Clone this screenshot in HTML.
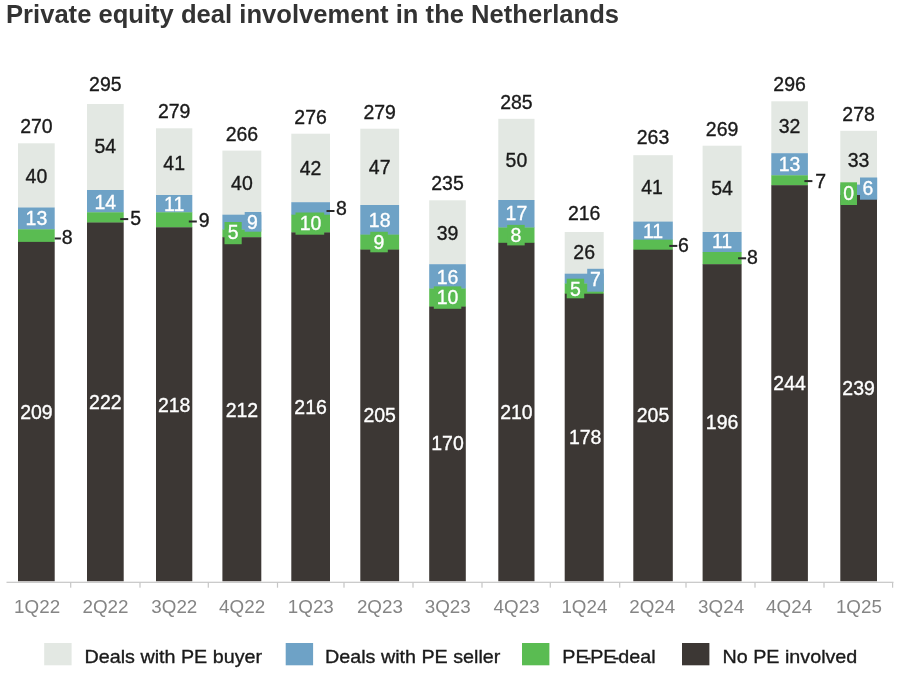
<!DOCTYPE html>
<html><head><meta charset="utf-8"><title>Private equity deal involvement in the Netherlands</title>
<style>html,body{margin:0;padding:0;background:#fff;}body{width:900px;height:675px;overflow:hidden}svg{display:block;font-family:"Liberation Sans",Arial,sans-serif}</style>
</head><body>
<svg width="900" height="675" viewBox="0 0 900 675">
<rect x="18.0" y="143.3" width="36.7" height="64.5" fill="#e3e8e3"/>
<rect x="18.0" y="207.5" width="36.7" height="22.1" fill="#6ea2c6"/>
<rect x="18.0" y="229.3" width="36.7" height="12.9" fill="#5abc52"/>
<rect x="18.0" y="241.9" width="36.7" height="339.4" fill="#3c3734"/>
<text transform="translate(36.4,133.3) scale(0.97,1)" font-size="20.1" fill="#1a1a1a" stroke="#1a1a1a" stroke-width="0.35" text-anchor="middle">270</text>
<text transform="translate(36.4,182.9) scale(0.97,1)" font-size="20.1" fill="#1a1a1a" stroke="#1a1a1a" stroke-width="0.35" text-anchor="middle">40</text>
<text transform="translate(36.4,419.1) scale(0.97,1)" font-size="20.1" fill="#fff" stroke="#fff" stroke-width="0.35" text-anchor="middle">209</text>
<text transform="translate(36.4,224.7) scale(0.97,1)" font-size="20.1" fill="#fff" stroke="#fff" stroke-width="0.35" text-anchor="middle">13</text>
<rect x="54.7" y="237.5" width="6.2" height="2" fill="#2a2a2a"/>
<text transform="translate(61.8,244.3) scale(0.97,1)" font-size="20.1" fill="#1a1a1a" stroke="#1a1a1a" stroke-width="0.35" text-anchor="start">8</text>
<text transform="translate(37.1,613.3) scale(0.99,1)" font-size="19" fill="#858585" text-anchor="middle">1Q22</text>
<rect x="87.0" y="104.0" width="36.7" height="86.3" fill="#e3e8e3"/>
<rect x="87.0" y="190.0" width="36.7" height="22.6" fill="#6ea2c6"/>
<rect x="87.0" y="212.3" width="36.7" height="10.5" fill="#5abc52"/>
<rect x="87.0" y="222.5" width="36.7" height="358.8" fill="#3c3734"/>
<text transform="translate(105.3,91.2) scale(0.97,1)" font-size="20.1" fill="#1a1a1a" stroke="#1a1a1a" stroke-width="0.35" text-anchor="middle">295</text>
<text transform="translate(105.3,153.0) scale(0.97,1)" font-size="20.1" fill="#1a1a1a" stroke="#1a1a1a" stroke-width="0.35" text-anchor="middle">54</text>
<text transform="translate(105.3,409.4) scale(0.97,1)" font-size="20.1" fill="#fff" stroke="#fff" stroke-width="0.35" text-anchor="middle">222</text>
<text transform="translate(105.3,209.1) scale(0.97,1)" font-size="20.1" fill="#fff" stroke="#fff" stroke-width="0.35" text-anchor="middle">14</text>
<rect x="120.2" y="218.1" width="8.0" height="2" fill="#2a2a2a"/>
<text transform="translate(130.2,224.9) scale(0.97,1)" font-size="20.1" fill="#1a1a1a" stroke="#1a1a1a" stroke-width="0.35" text-anchor="start">5</text>
<text transform="translate(105.5,613.3) scale(0.99,1)" font-size="19" fill="#858585" text-anchor="middle">2Q22</text>
<rect x="156.0" y="128.3" width="36.3" height="67.0" fill="#e3e8e3"/>
<rect x="156.0" y="195.0" width="36.3" height="17.6" fill="#6ea2c6"/>
<rect x="156.0" y="212.3" width="36.3" height="15.3" fill="#5abc52"/>
<rect x="156.0" y="227.3" width="36.3" height="354.0" fill="#3c3734"/>
<text transform="translate(174.2,118.3) scale(0.97,1)" font-size="20.1" fill="#1a1a1a" stroke="#1a1a1a" stroke-width="0.35" text-anchor="middle">279</text>
<text transform="translate(174.2,170.2) scale(0.97,1)" font-size="20.1" fill="#1a1a1a" stroke="#1a1a1a" stroke-width="0.35" text-anchor="middle">41</text>
<text transform="translate(174.2,411.8) scale(0.97,1)" font-size="20.1" fill="#fff" stroke="#fff" stroke-width="0.35" text-anchor="middle">218</text>
<text transform="translate(174.2,211.2) scale(0.97,1)" font-size="20.1" fill="#fff" stroke="#fff" stroke-width="0.35" text-anchor="middle">11</text>
<rect x="188.8" y="220.5" width="8.0" height="2" fill="#2a2a2a"/>
<text transform="translate(198.8,227.3) scale(0.97,1)" font-size="20.1" fill="#1a1a1a" stroke="#1a1a1a" stroke-width="0.35" text-anchor="start">9</text>
<text transform="translate(174.3,613.3) scale(0.99,1)" font-size="19" fill="#858585" text-anchor="middle">3Q22</text>
<rect x="222.4" y="150.6" width="38.9" height="64.4" fill="#e3e8e3"/>
<rect x="222.4" y="214.7" width="38.9" height="15.1" fill="#6ea2c6"/>
<rect x="222.4" y="229.5" width="38.9" height="8.0" fill="#5abc52"/>
<rect x="222.4" y="237.2" width="38.9" height="344.1" fill="#3c3734"/>
<text transform="translate(241.9,141.0) scale(0.97,1)" font-size="20.1" fill="#1a1a1a" stroke="#1a1a1a" stroke-width="0.35" text-anchor="middle">266</text>
<text transform="translate(241.9,190.1) scale(0.97,1)" font-size="20.1" fill="#1a1a1a" stroke="#1a1a1a" stroke-width="0.35" text-anchor="middle">40</text>
<text transform="translate(241.9,416.8) scale(0.97,1)" font-size="20.1" fill="#fff" stroke="#fff" stroke-width="0.35" text-anchor="middle">212</text>
<rect x="244.7" y="212.0" width="16.6" height="19.7" fill="#6ea2c6"/>
<text transform="translate(252.3,229.3) scale(0.97,1)" font-size="20.1" fill="#fff" stroke="#fff" stroke-width="0.35" text-anchor="middle">9</text>
<rect x="224.5" y="222.0" width="17.2" height="22.2" fill="#5abc52"/>
<text transform="translate(233.1,239.4) scale(0.97,1)" font-size="20.1" fill="#fff" stroke="#fff" stroke-width="0.35" text-anchor="middle">5</text>
<text transform="translate(242.1,613.3) scale(0.99,1)" font-size="19" fill="#858585" text-anchor="middle">4Q22</text>
<rect x="291.3" y="133.7" width="38.7" height="68.8" fill="#e3e8e3"/>
<rect x="291.3" y="202.2" width="38.7" height="12.8" fill="#6ea2c6"/>
<rect x="291.3" y="214.7" width="38.7" height="18.0" fill="#5abc52"/>
<rect x="291.3" y="232.4" width="38.7" height="348.9" fill="#3c3734"/>
<text transform="translate(310.6,123.7) scale(0.97,1)" font-size="20.1" fill="#1a1a1a" stroke="#1a1a1a" stroke-width="0.35" text-anchor="middle">276</text>
<text transform="translate(310.6,175.4) scale(0.97,1)" font-size="20.1" fill="#1a1a1a" stroke="#1a1a1a" stroke-width="0.35" text-anchor="middle">42</text>
<text transform="translate(310.6,414.3) scale(0.97,1)" font-size="20.1" fill="#fff" stroke="#fff" stroke-width="0.35" text-anchor="middle">216</text>
<rect x="295.5" y="212.5" width="28.7" height="22.2" fill="#5abc52"/>
<text transform="translate(310.6,229.6) scale(0.97,1)" font-size="20.1" fill="#fff" stroke="#fff" stroke-width="0.35" text-anchor="middle">10</text>
<rect x="326.5" y="210.0" width="8.0" height="2" fill="#2a2a2a"/>
<text transform="translate(336.0,215.3) scale(0.97,1)" font-size="20.1" fill="#1a1a1a" stroke="#1a1a1a" stroke-width="0.35" text-anchor="start">8</text>
<text transform="translate(310.8,613.3) scale(0.99,1)" font-size="19" fill="#858585" text-anchor="middle">1Q23</text>
<rect x="360.3" y="128.7" width="38.8" height="76.6" fill="#e3e8e3"/>
<rect x="360.3" y="205.0" width="38.8" height="29.9" fill="#6ea2c6"/>
<rect x="360.3" y="234.6" width="38.8" height="15.3" fill="#5abc52"/>
<rect x="360.3" y="249.6" width="38.8" height="331.7" fill="#3c3734"/>
<text transform="translate(379.7,118.7) scale(0.97,1)" font-size="20.1" fill="#1a1a1a" stroke="#1a1a1a" stroke-width="0.35" text-anchor="middle">279</text>
<text transform="translate(379.7,174.3) scale(0.97,1)" font-size="20.1" fill="#1a1a1a" stroke="#1a1a1a" stroke-width="0.35" text-anchor="middle">47</text>
<text transform="translate(379.7,421.9) scale(0.97,1)" font-size="20.1" fill="#fff" stroke="#fff" stroke-width="0.35" text-anchor="middle">205</text>
<text transform="translate(379.7,226.8) scale(0.97,1)" font-size="20.1" fill="#fff" stroke="#fff" stroke-width="0.35" text-anchor="middle">18</text>
<rect x="370.3" y="231.8" width="17.5" height="20.5" fill="#5abc52"/>
<text transform="translate(379.0,248.9) scale(0.97,1)" font-size="20.1" fill="#fff" stroke="#fff" stroke-width="0.35" text-anchor="middle">9</text>
<text transform="translate(379.9,613.3) scale(0.99,1)" font-size="19" fill="#858585" text-anchor="middle">2Q23</text>
<rect x="429.2" y="200.3" width="36.6" height="64.2" fill="#e3e8e3"/>
<rect x="429.2" y="264.2" width="36.6" height="24.6" fill="#6ea2c6"/>
<rect x="429.2" y="288.5" width="36.6" height="18.4" fill="#5abc52"/>
<rect x="429.2" y="306.6" width="36.6" height="274.7" fill="#3c3734"/>
<text transform="translate(447.5,190.3) scale(0.97,1)" font-size="20.1" fill="#1a1a1a" stroke="#1a1a1a" stroke-width="0.35" text-anchor="middle">235</text>
<text transform="translate(447.5,239.8) scale(0.97,1)" font-size="20.1" fill="#1a1a1a" stroke="#1a1a1a" stroke-width="0.35" text-anchor="middle">39</text>
<text transform="translate(447.5,450.4) scale(0.97,1)" font-size="20.1" fill="#fff" stroke="#fff" stroke-width="0.35" text-anchor="middle">170</text>
<text transform="translate(447.5,283.9) scale(0.97,1)" font-size="20.1" fill="#fff" stroke="#fff" stroke-width="0.35" text-anchor="middle">16</text>
<rect x="433.8" y="286.4" width="27.5" height="22.4" fill="#5abc52"/>
<text transform="translate(447.5,303.9) scale(0.97,1)" font-size="20.1" fill="#fff" stroke="#fff" stroke-width="0.35" text-anchor="middle">10</text>
<text transform="translate(447.7,613.3) scale(0.99,1)" font-size="19" fill="#858585" text-anchor="middle">3Q23</text>
<rect x="498.3" y="118.8" width="36.2" height="81.5" fill="#e3e8e3"/>
<rect x="498.3" y="200.0" width="36.2" height="27.8" fill="#6ea2c6"/>
<rect x="498.3" y="227.5" width="36.2" height="15.6" fill="#5abc52"/>
<rect x="498.3" y="242.8" width="36.2" height="338.5" fill="#3c3734"/>
<text transform="translate(516.4,108.8) scale(0.97,1)" font-size="20.1" fill="#1a1a1a" stroke="#1a1a1a" stroke-width="0.35" text-anchor="middle">285</text>
<text transform="translate(516.4,166.9) scale(0.97,1)" font-size="20.1" fill="#1a1a1a" stroke="#1a1a1a" stroke-width="0.35" text-anchor="middle">50</text>
<text transform="translate(516.4,418.5) scale(0.97,1)" font-size="20.1" fill="#fff" stroke="#fff" stroke-width="0.35" text-anchor="middle">210</text>
<text transform="translate(516.4,220.1) scale(0.97,1)" font-size="20.1" fill="#fff" stroke="#fff" stroke-width="0.35" text-anchor="middle">17</text>
<rect x="507.2" y="224.9" width="17.5" height="20.5" fill="#5abc52"/>
<text transform="translate(516.0,241.8) scale(0.97,1)" font-size="20.1" fill="#fff" stroke="#fff" stroke-width="0.35" text-anchor="middle">8</text>
<text transform="translate(516.6,613.3) scale(0.99,1)" font-size="19" fill="#858585" text-anchor="middle">4Q23</text>
<rect x="564.7" y="232.0" width="39.0" height="42.0" fill="#e3e8e3"/>
<rect x="564.7" y="273.7" width="39.0" height="10.1" fill="#6ea2c6"/>
<rect x="564.7" y="283.5" width="39.0" height="10.5" fill="#5abc52"/>
<rect x="564.7" y="293.7" width="39.0" height="287.6" fill="#3c3734"/>
<text transform="translate(584.2,219.9) scale(0.97,1)" font-size="20.1" fill="#1a1a1a" stroke="#1a1a1a" stroke-width="0.35" text-anchor="middle">216</text>
<text transform="translate(584.2,259.4) scale(0.97,1)" font-size="20.1" fill="#1a1a1a" stroke="#1a1a1a" stroke-width="0.35" text-anchor="middle">26</text>
<text transform="translate(585.2,443.8) scale(0.97,1)" font-size="20.1" fill="#fff" stroke="#fff" stroke-width="0.35" text-anchor="middle">178</text>
<rect x="587.2" y="268.8" width="16.6" height="22.9" fill="#6ea2c6"/>
<text transform="translate(595.5,286.4) scale(0.97,1)" font-size="20.1" fill="#fff" stroke="#fff" stroke-width="0.35" text-anchor="middle">7</text>
<rect x="566.7" y="278.7" width="17.5" height="19.6" fill="#5abc52"/>
<text transform="translate(575.4,296.0) scale(0.97,1)" font-size="20.1" fill="#fff" stroke="#fff" stroke-width="0.35" text-anchor="middle">5</text>
<text transform="translate(584.4,613.3) scale(0.99,1)" font-size="19" fill="#858585" text-anchor="middle">1Q24</text>
<rect x="633.3" y="155.2" width="39.5" height="66.7" fill="#e3e8e3"/>
<rect x="633.3" y="221.6" width="39.5" height="18.4" fill="#6ea2c6"/>
<rect x="633.3" y="239.7" width="39.5" height="10.3" fill="#5abc52"/>
<rect x="633.3" y="249.7" width="39.5" height="331.6" fill="#3c3734"/>
<text transform="translate(653.0,143.6) scale(0.97,1)" font-size="20.1" fill="#1a1a1a" stroke="#1a1a1a" stroke-width="0.35" text-anchor="middle">263</text>
<text transform="translate(652.0,194.4) scale(0.97,1)" font-size="20.1" fill="#1a1a1a" stroke="#1a1a1a" stroke-width="0.35" text-anchor="middle">41</text>
<text transform="translate(653.0,422.0) scale(0.97,1)" font-size="20.1" fill="#fff" stroke="#fff" stroke-width="0.35" text-anchor="middle">205</text>
<text transform="translate(653.0,238.1) scale(0.97,1)" font-size="20.1" fill="#fff" stroke="#fff" stroke-width="0.35" text-anchor="middle">11</text>
<rect x="669.3" y="244.9" width="8.0" height="2" fill="#2a2a2a"/>
<text transform="translate(678.1,252.2) scale(0.97,1)" font-size="20.1" fill="#1a1a1a" stroke="#1a1a1a" stroke-width="0.35" text-anchor="start">6</text>
<text transform="translate(652.2,613.3) scale(0.99,1)" font-size="19" fill="#858585" text-anchor="middle">2Q24</text>
<rect x="702.6" y="145.7" width="39.0" height="86.6" fill="#e3e8e3"/>
<rect x="702.6" y="232.0" width="39.0" height="20.3" fill="#6ea2c6"/>
<rect x="702.6" y="252.0" width="39.0" height="12.5" fill="#5abc52"/>
<rect x="702.6" y="264.2" width="39.0" height="317.1" fill="#3c3734"/>
<text transform="translate(722.1,136.0) scale(0.97,1)" font-size="20.1" fill="#1a1a1a" stroke="#1a1a1a" stroke-width="0.35" text-anchor="middle">269</text>
<text transform="translate(722.1,195.3) scale(0.97,1)" font-size="20.1" fill="#1a1a1a" stroke="#1a1a1a" stroke-width="0.35" text-anchor="middle">54</text>
<text transform="translate(722.1,429.4) scale(0.97,1)" font-size="20.1" fill="#fff" stroke="#fff" stroke-width="0.35" text-anchor="middle">196</text>
<text transform="translate(722.1,248.3) scale(0.97,1)" font-size="20.1" fill="#fff" stroke="#fff" stroke-width="0.35" text-anchor="middle">11</text>
<rect x="738.1" y="257.3" width="8.0" height="2" fill="#2a2a2a"/>
<text transform="translate(746.9,264.1) scale(0.97,1)" font-size="20.1" fill="#1a1a1a" stroke="#1a1a1a" stroke-width="0.35" text-anchor="start">8</text>
<text transform="translate(721.1,613.3) scale(0.99,1)" font-size="19" fill="#858585" text-anchor="middle">3Q24</text>
<rect x="771.3" y="101.3" width="36.6" height="52.2" fill="#e3e8e3"/>
<rect x="771.3" y="153.2" width="36.6" height="22.4" fill="#6ea2c6"/>
<rect x="771.3" y="175.3" width="36.6" height="10.2" fill="#5abc52"/>
<rect x="771.3" y="185.2" width="36.6" height="396.1" fill="#3c3734"/>
<text transform="translate(789.6,91.0) scale(0.97,1)" font-size="20.1" fill="#1a1a1a" stroke="#1a1a1a" stroke-width="0.35" text-anchor="middle">296</text>
<text transform="translate(789.6,133.2) scale(0.97,1)" font-size="20.1" fill="#1a1a1a" stroke="#1a1a1a" stroke-width="0.35" text-anchor="middle">32</text>
<text transform="translate(789.6,389.8) scale(0.97,1)" font-size="20.1" fill="#fff" stroke="#fff" stroke-width="0.35" text-anchor="middle">244</text>
<text transform="translate(789.6,170.6) scale(0.97,1)" font-size="20.1" fill="#fff" stroke="#fff" stroke-width="0.35" text-anchor="middle">13</text>
<rect x="804.4" y="180.1" width="8.0" height="2" fill="#2a2a2a"/>
<text transform="translate(815.3,187.8) scale(0.97,1)" font-size="20.1" fill="#1a1a1a" stroke="#1a1a1a" stroke-width="0.35" text-anchor="start">7</text>
<text transform="translate(789.1,613.3) scale(0.99,1)" font-size="19" fill="#858585" text-anchor="middle">4Q24</text>
<rect x="840.3" y="130.8" width="36.7" height="54.1" fill="#e3e8e3"/>
<rect x="840.3" y="184.6" width="36.7" height="10.7" fill="#6ea2c6"/>
<rect x="840.3" y="195.0" width="36.7" height="386.3" fill="#3c3734"/>
<text transform="translate(858.6,121.3) scale(0.97,1)" font-size="20.1" fill="#1a1a1a" stroke="#1a1a1a" stroke-width="0.35" text-anchor="middle">278</text>
<text transform="translate(858.6,167.2) scale(0.97,1)" font-size="20.1" fill="#1a1a1a" stroke="#1a1a1a" stroke-width="0.35" text-anchor="middle">33</text>
<text transform="translate(858.6,395.1) scale(0.97,1)" font-size="20.1" fill="#fff" stroke="#fff" stroke-width="0.35" text-anchor="middle">239</text>
<rect x="860.0" y="177.5" width="17.2" height="22.2" fill="#6ea2c6"/>
<text transform="translate(867.9,195.3) scale(0.97,1)" font-size="20.1" fill="#fff" stroke="#fff" stroke-width="0.35" text-anchor="middle">6</text>
<rect x="840.3" y="182.3" width="16.7" height="22.7" fill="#5abc52"/>
<text transform="translate(848.6,200.2) scale(0.97,1)" font-size="20.1" fill="#fff" stroke="#fff" stroke-width="0.35" text-anchor="middle">0</text>
<text transform="translate(858.9,613.3) scale(0.99,1)" font-size="19" fill="#858585" text-anchor="middle">1Q25</text>
<rect x="6.5" y="581.7" width="887" height="1.2" fill="#c6c6c6"/>
<rect x="70.1" y="582.5" width="1.2" height="5.2" fill="#c6c6c6"/>
<rect x="139.4" y="582.5" width="1.2" height="5.2" fill="#c6c6c6"/>
<rect x="207.7" y="582.5" width="1.2" height="5.2" fill="#c6c6c6"/>
<rect x="276.9" y="582.5" width="1.2" height="5.2" fill="#c6c6c6"/>
<rect x="343.4" y="582.5" width="1.2" height="5.2" fill="#c6c6c6"/>
<rect x="412.4" y="582.5" width="1.2" height="5.2" fill="#c6c6c6"/>
<rect x="481.4" y="582.5" width="1.2" height="5.2" fill="#c6c6c6"/>
<rect x="549.7" y="582.5" width="1.2" height="5.2" fill="#c6c6c6"/>
<rect x="619.1" y="582.5" width="1.2" height="5.2" fill="#c6c6c6"/>
<rect x="685.4" y="582.5" width="1.2" height="5.2" fill="#c6c6c6"/>
<rect x="754.4" y="582.5" width="1.2" height="5.2" fill="#c6c6c6"/>
<rect x="823.4" y="582.5" width="1.2" height="5.2" fill="#c6c6c6"/>
<rect x="892.0" y="582.5" width="1.2" height="5.2" fill="#c6c6c6"/>
<rect x="44.2" y="643" width="27.4" height="22.3" fill="#e3e8e3"/>
<text transform="translate(84.5,662.9) scale(1.038,1)" font-size="19" fill="#1a1a1a" stroke="#1a1a1a" stroke-width="0.35" text-anchor="start">Deals with PE buyer</text>
<rect x="285.7" y="643" width="27.4" height="22.3" fill="#6ea2c6"/>
<text transform="translate(325.0,662.9) scale(1.038,1)" font-size="19" fill="#1a1a1a" stroke="#1a1a1a" stroke-width="0.35" text-anchor="start">Deals with PE seller</text>
<rect x="522" y="643" width="27.4" height="22.3" fill="#5abc52"/>
<text transform="translate(562.3,662.9) scale(1.038,1)" font-size="19" fill="#1a1a1a" stroke="#1a1a1a" stroke-width="0.35" text-anchor="start">PE<tspan dx="-3.7" dy="1.5">-</tspan><tspan dx="-1.1" dy="-1.5">PE</tspan><tspan dx="-3.7" dy="1.5">-</tspan><tspan dx="-0.9" dy="-1.5">deal</tspan></text>
<rect x="682" y="643" width="27.4" height="22.3" fill="#3c3734"/>
<text transform="translate(722.5,662.9) scale(1.038,1)" font-size="19" fill="#1a1a1a" stroke="#1a1a1a" stroke-width="0.35" text-anchor="start">No PE involved</text>
<text transform="translate(6,23.1) scale(1.024,1)" font-size="25" font-weight="bold" fill="#333">Private equity deal involvement in the Netherlands</text>
</svg>
</body></html>
